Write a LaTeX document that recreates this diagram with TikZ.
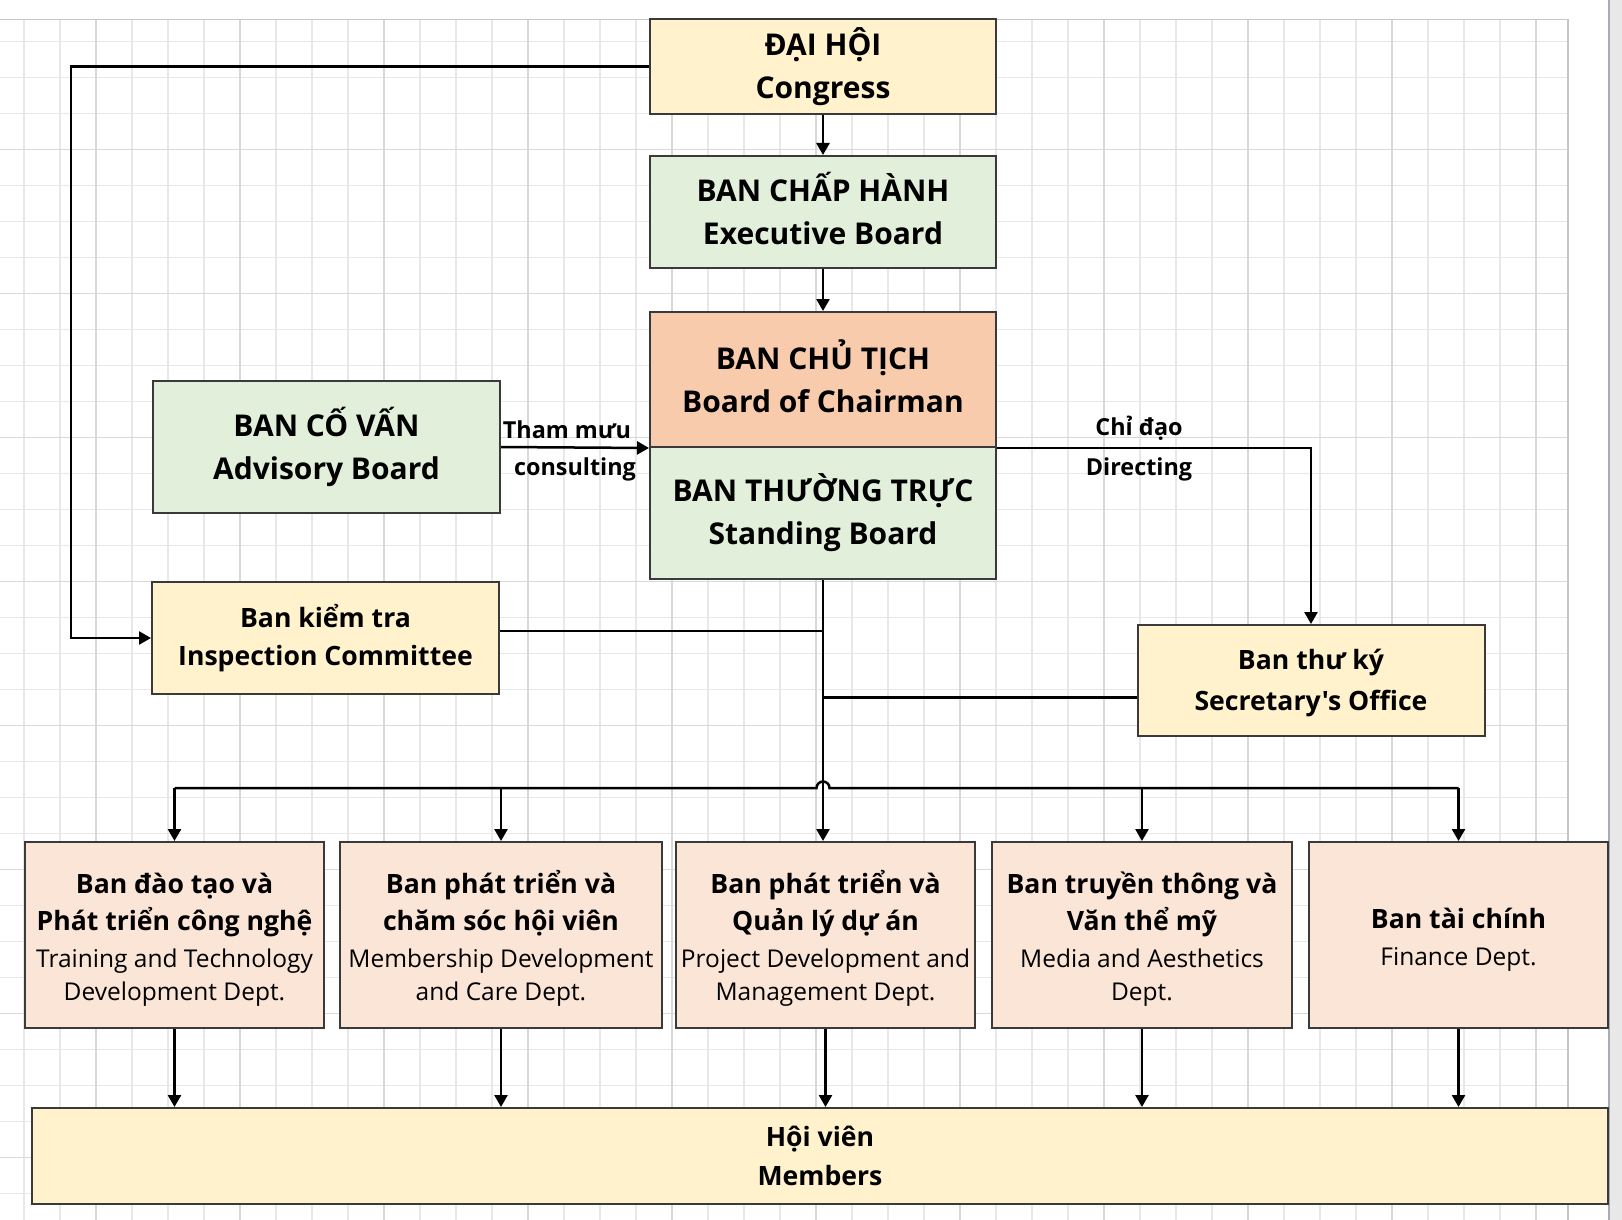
\documentclass[tikz,border=0pt]{standalone}
\usepackage{fontspec}
\newfontfamily\orgfont{Open Sans}
\usetikzlibrary{arrows.meta, calc}
\definecolor{gridMinor}{HTML}{E8E8E8}
\definecolor{gridMajor}{HTML}{D8D8D8}
\definecolor{frameGray}{HTML}{C6C6C6}
\definecolor{stripGray}{HTML}{E8E8E8}
\definecolor{stripEdge}{HTML}{A8ADB3}
\definecolor{orgCream}{HTML}{FFF2CC}
\definecolor{orgGreen}{HTML}{E2EFDA}
\definecolor{orgPeach}{HTML}{F8CBAD}
\definecolor{orgBlush}{HTML}{FBE5D6}
\definecolor{orgLine}{HTML}{3A3A3A}
\newcommand\fntTop{\orgfont\fontsize{30}{43}\selectfont\bfseries}
\newcommand\fntMid{\orgfont\fontsize{26.6}{38.5}\selectfont\bfseries}
\newcommand\fntDept{\orgfont\fontsize{26.6}{37}\selectfont\bfseries}
\newcommand\fntSub{\orgfont\fontsize{24.5}{33}\selectfont}
\newcommand\fntLabel{\orgfont\fontsize{23.4}{28}\selectfont\bfseries}
\newcommand\deptText[2]{{\fntDept\rule{0pt}{30pt}#1\par}\vskip3.5pt
  {\fntSub #2\par}}
\tikzset{
  orgbox/.style={rectangle, draw=orgLine, line width=2pt, align=flush center,
    inner sep=0pt},
  wideboard/.style={orgbox, minimum width=346pt, text width=340pt,
    font=\fntTop},
  sideboard/.style={orgbox, minimum width=347pt, text width=340pt,
    font=\fntMid, fill=orgCream},
  deptbox/.style={orgbox, fill=orgBlush, minimum height=186pt},
  linkline/.style={line width=2.5pt, black},
  arrowline/.style={linkline, -{Triangle[length=12pt, width=13pt]}},
  linklabel/.style={font=\fntLabel, inner sep=0pt},
}

\begin{document}
\begin{tikzpicture}[x=1pt, y=-1pt]
  \useasboundingbox (0,0) rectangle (1622,1220);
  \fill[white] (0,0) rectangle (1622,1220);
  \begin{scope}
    \clip (0,19.3) rectangle (1568,1220);
    \foreach \gx in {24,60,...,1560}
      \draw[gridMinor, line width=1.3pt] (\gx,19.3) -- (\gx,1220);
    \foreach \gy in {41.7,77.7,...,1220}
      \draw[gridMinor, line width=1.3pt] (0,\gy) -- (1568,\gy);
    \foreach \gx in {96,240,...,1560}
      \draw[gridMajor, line width=1.3pt] (\gx,19.3) -- (\gx,1220);
    \foreach \gy in {149.7,293.7,...,1220}
      \draw[gridMajor, line width=1.3pt] (0,\gy) -- (1568,\gy);
  \end{scope}
  \draw[frameGray, line width=1.3pt] (0,19.3) -- (1568,19.3) -- (1568,1220);
  \fill[stripGray] (1609,0) rectangle (1622,1220);
  \draw[stripEdge, line width=1.5pt] (1609,0) -- (1609,1220);

  \node[wideboard, fill=orgCream, minimum height=95pt] (congress)
    at (823,66.5) {ĐẠI HỘI\\Congress};
  \node[wideboard, fill=orgGreen, minimum height=112pt] (exec)
    at (823,212) {BAN CHẤP HÀNH\\Executive Board\vphantom{g}};
  \node[wideboard, fill=orgPeach, minimum height=135pt] (chair)
    at (823,379.5) {BAN CHỦ TỊCH\\Board of Chairman\vphantom{g}};
  \node[wideboard, fill=orgGreen, minimum height=132pt] (standing)
    at (823,513) {BAN THƯỜNG TRỰC\\Standing Board};
  \node[wideboard, fill=orgGreen, minimum width=347pt, minimum height=132pt]
    (advisory) at (326.5,447) {BAN CỐ VẤN\\Advisory Board};
  \node[sideboard, minimum height=112pt] (inspect)
    at (325.5,638) {Ban kiểm tra\\Inspection Committee};
  \node[sideboard, minimum height=111pt] (secretary)
    at (1311,680.5) {\rule{0pt}{25pt}Ban thư ký\\[2pt]Secretary's Office};

  \node[deptbox, minimum width=299pt, text width=299pt] (training)
    at (174.5,935) {\deptText{Ban đào tạo và\\Phát triển công nghệ}
      {Training and Technology\\Development Dept.}};
  \node[deptbox, minimum width=322pt, text width=322pt] (membership)
    at (501,935) {\deptText{Ban phát triển và\\chăm sóc hội viên}
      {Membership Development\\and Care Dept.}};
  \node[deptbox, minimum width=299pt, text width=299pt] (project)
    at (825.5,935) {\deptText{Ban phát triển và\\Quản lý dự án}
      {Project Development and\\Management Dept.}};
  \node[deptbox, minimum width=300pt, text width=300pt] (media)
    at (1142,935) {\deptText{Ban truyền thông và\\Văn thể mỹ}
      {Media and Aesthetics\\Dept.}};
  \node[deptbox, minimum width=299pt, text width=299pt] (finance)
    at (1458.5,935) {\deptText{Ban tài chính}{Finance Dept.}};
  \node[orgbox, fill=orgCream, minimum width=1576pt, minimum height=96pt,
        font=\fntMid] (members)
    at (820,1156) {Hội viên\\Members};

  \coordinate (leftrail) at (71,0);
  \coordinate (bus) at (0,788);
  \coordinate (hop) at (standing.south |- bus);
  \draw[arrowline] (congress.west) -- (congress.west -| leftrail)
    |- (inspect.west);
  \draw[arrowline] (congress) -- (exec);
  \draw[arrowline] (exec) -- (chair);
  \draw[arrowline] (advisory.east) -- (chair.south west);
  \draw[arrowline] (chair.south east) -| (secretary.north);
  \draw[arrowline] (standing.south) -- (standing.south |- project.north);
  \draw[linkline] ([yshift=7pt]inspect.east)
    -- ([yshift=7pt]inspect.east -| standing.south);
  \draw[linkline] ([yshift=-17pt]secretary.west)
    -- ([yshift=-17pt]secretary.west -| standing.south);
  \draw[linkline] (training.north |- bus) -- ([xshift=-6.5pt]hop)
    arc[start angle=180, end angle=0, radius=6.5pt]
    -- (finance.north |- bus);
  \foreach \dep in {training, membership, media, finance}
    \draw[arrowline] (\dep.north |- bus) -- (\dep.north);
  \foreach \dep in {training, membership, project, media, finance}
    \draw[arrowline] (\dep.south) -- (\dep.south |- members.north);

  \node[linklabel] (consultVi) at (567,430) {Tham mưu};
  \node[linklabel] (consultEn) at (575,469) {consulting};
  \node[linklabel] (directVi) at (1139,428) {Chỉ đạo};
  \node[linklabel] (directEn) at (1139,469) {Directing};
\end{tikzpicture}
\end{document}
